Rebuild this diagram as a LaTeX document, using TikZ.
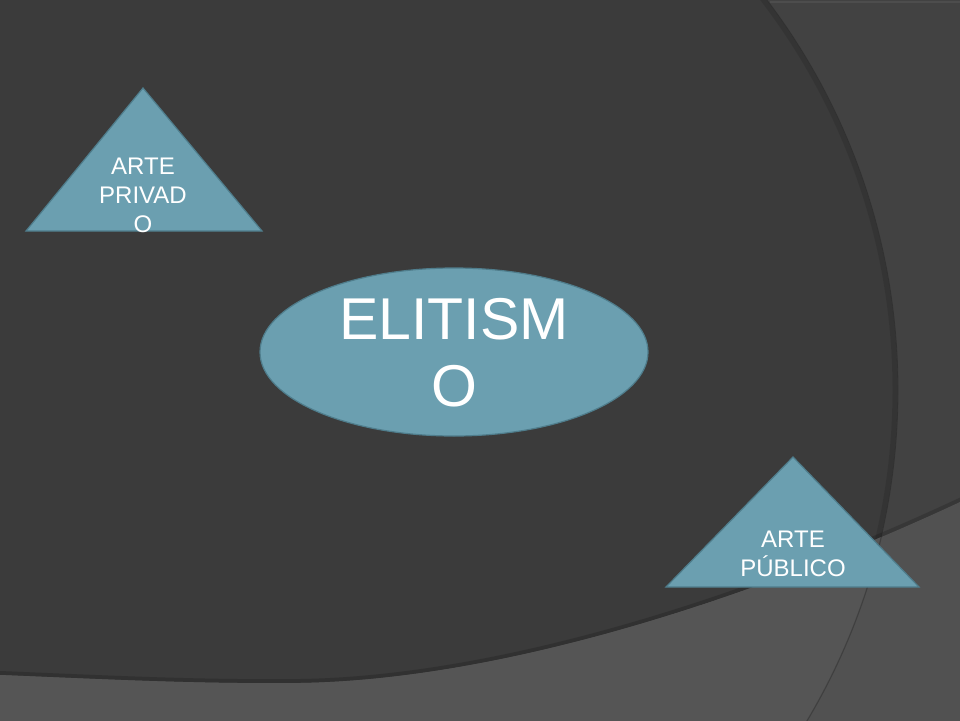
\documentclass[tikz,border=0pt]{standalone}
\usepackage{fontspec}
\setmainfont{Liberation Sans}
\usetikzlibrary{calc,shapes.geometric}
\definecolor{bgdark}{HTML}{3B3B3B}
\definecolor{bgright}{HTML}{424242}
\definecolor{bgbottom}{HTML}{555555}
\definecolor{shapefill}{HTML}{6B9FB0}
\definecolor{shapeedge}{HTML}{4F7D8C}
\tikzset{
  shapebox/.style={fill=shapefill, draw=shapeedge, line width=1.2pt, line join=miter},
  smalltext/.style={text=white, align=center, inner sep=0pt, font=\fontsize{24}{29}\selectfont},
  bigtext/.style={text=white, align=center, inner sep=0pt, font=\fontsize{59}{67}\selectfont},
}
\def\bandcurve{(-5,674.8) -- (0,675) .. controls (120,680) and (200,684) .. (300,683) .. controls (500,680) and (750,600) .. (960,502) -- (970,497)}
\begin{document}
\begin{tikzpicture}[x=1pt,y=-1pt]
\useasboundingbox (0,0) rectangle (960,720);
% background
\fill[bgright] (0,0) rectangle (960,720);
\begin{scope}
  \clip (0,0) rectangle (960,720);
  \fill[bgdark] (252,390) circle[radius=646];
  \draw[black, opacity=0.10, line width=5pt] (252,390) circle[radius=643];
  \draw[black, opacity=0.18, line width=0.8pt] (252,390) circle[radius=646];
  \draw[white, opacity=0.06, line width=1.5pt] (770,2) -- (960,2);
  % shadow of bottom band
  \draw[black, opacity=0.16, line width=8pt] \bandcurve;
  \fill[bgbottom] \bandcurve -- (970,730) -- (-5,730) -- cycle;
  \begin{scope}
    \clip \bandcurve -- (970,730) -- (-5,730) -- cycle;
    \fill[black, opacity=0.04] (0,400) rectangle (970,730);
    \fill[bgbottom] (252,390) circle[radius=646];
    \draw[black, opacity=0.22, line width=1.2pt] (252,390) circle[radius=646];
  \end{scope}
\end{scope}
% triangle: ARTE PRIVADO
\coordinate (t1a) at (143,88);
\coordinate (t1l) at (26,231);
\coordinate (t1r) at (262,231);
\fill[shapebox] (t1a) -- (t1r) -- (t1l) -- cycle;
\node[smalltext] (privado) at (143,195) {ARTE\\PRIVAD\\O};
% ellipse: ELITISMO
\node[shapebox, ellipse, minimum width=388pt, minimum height=168pt, inner sep=0pt] (elit) at (454,352) {};
\node[bigtext] (elittext) at (454,353) {ELITISM\\O};
% triangle: ARTE PUBLICO
\coordinate (t2a) at (793,457);
\coordinate (t2l) at (666,587);
\coordinate (t2r) at (919,587);
\fill[shapebox] (t2a) -- (t2r) -- (t2l) -- cycle;
\node[smalltext] (publico) at (793,554) {ARTE\\PÚBLICO};
\end{tikzpicture}
\end{document}
